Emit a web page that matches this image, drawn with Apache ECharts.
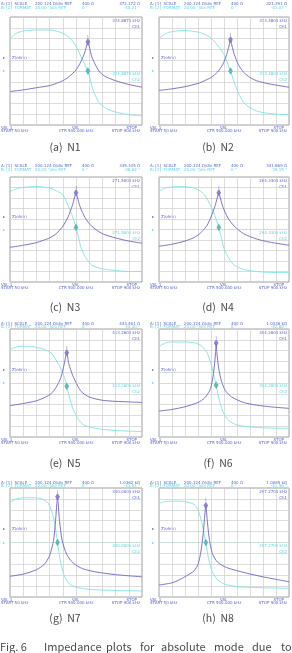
<!DOCTYPE html>
<html><head><meta charset="utf-8">
<script src="https://cdn.jsdelivr.net/npm/echarts@6/dist/echarts.min.js"></script>
<style>html,body{margin:0;padding:0;background:#fff}#c{width:292px;height:653px}</style>
</head><body><div id="c"></div>
<script>
// ---- data (x and y in screen divisions, 0..10) ----
const panelLetters = ['a','b','c','d','e','f','g','h'];
const panelNames = ['N1','N2','N3','N4','N5','N6','N7','N8'];

const magN1 = [[0,3.1],[1,3.25],[2,3.45],[3,3.65],[3.5,3.85],[4,4.1],[4.5,4.5],[5,5.1],[5.3,5.7],[5.6,6.5],[5.8,7.3],[5.9,7.7],[6.0,7.3],[6.2,6.3],[6.5,5.5],[6.8,4.9],[7.2,4.5],[8,4.1],[9,3.75],[10,3.5]];
const phaN1 = [[0,8.0],[0.5,8.5],[1,8.7],[2,8.8],[3,8.8],[3.5,8.7],[4,8.5],[4.5,8.1],[5,7.3],[5.5,6.0],[5.9,5.0],[6.1,4.1],[6.3,3.2],[6.6,2.4],[6.8,2.0],[7.2,1.6],[7.6,1.35],[8,1.2],[9,0.95],[10,0.85]];
const magN2 = [[0,3.2],[1,3.35],[2,3.55],[3,3.85],[3.5,4.1],[4,4.4],[4.5,4.9],[4.9,5.6],[5.2,6.5],[5.4,7.4],[5.5,7.9],[5.6,7.4],[5.8,6.5],[6.1,5.6],[6.5,4.9],[7,4.4],[7.5,4.1],[8.5,3.8],[10,3.5]];
const phaN2 = [[0,8.0],[0.5,8.45],[1,8.65],[2,8.75],[3,8.6],[3.5,8.4],[4,8.05],[4.5,7.4],[5,6.5],[5.5,5.0],[5.8,3.9],[6.1,3.0],[6.5,2.1],[7,1.6],[7.5,1.3],[8,1.15],[9,1.0],[10,0.95]];
const magN3 = [[0,3.3],[1,3.5],[2,3.75],[3,4.2],[3.5,4.6],[4,5.3],[4.4,6.2],[4.7,7.2],[4.9,8.1],[5.0,8.5],[5.1,8.1],[5.3,7.2],[5.7,6.1],[6.2,5.3],[7,4.6],[8,4.2],[9,3.9],[10,3.7]];
const phaN3 = [[0,8.6],[0.5,8.9],[1,9.0],[2,9.1],[3,8.95],[3.5,8.7],[4,8.3],[4.5,7.0],[4.8,6.0],[5.0,5.2],[5.2,4.2],[5.4,3.2],[5.8,2.2],[6.2,1.6],[7,1.25],[8,1.1],[9,1.0],[10,1.0]];
const magN4 = [[0,3.4],[1,3.6],[2,3.9],[2.8,4.3],[3.3,4.8],[3.7,5.4],[4.0,6.2],[4.3,7.2],[4.5,8.1],[4.6,8.5],[4.7,8.1],[4.9,7.2],[5.3,6.1],[5.8,5.3],[6.5,4.6],[7.5,4.1],[8.5,3.8],[10,3.5]];
const phaN4 = [[0,8.65],[0.5,8.95],[1,9.05],[1.5,9.1],[2.5,9.0],[3,8.8],[3.5,8.3],[4,7.2],[4.3,6.3],[4.6,5.2],[4.8,4.2],[5.0,3.2],[5.4,2.2],[5.8,1.6],[6.5,1.2],[7.5,1.0],[9,0.9],[10,0.9]];
const magN5 = [[0,2.9],[1,3.1],[2,3.35],[2.7,3.7],[3.1,4.0],[3.5,4.6],[3.85,5.5],[4.1,6.7],[4.3,7.8],[4.45,6.8],[4.75,5.7],[5.1,4.8],[5.4,4.2],[6,3.7],[7,3.4],[8,3.3],[9,3.25],[10,3.2]];
const phaN5 = [[0,8.1],[0.5,8.35],[1,8.4],[1.5,8.4],[2,8.3],[2.5,8.15],[3.1,7.8],[3.7,6.7],[4.1,5.6],[4.3,4.7],[4.5,3.7],[4.8,2.5],[5.2,1.6],[5.6,1.1],[6.5,0.8],[8,0.6],[10,0.5]];
const magN6 = [[0,2.4],[1,2.55],[2,2.8],[3,3.2],[3.5,3.6],[3.9,4.3],[4.1,5.2],[4.25,6.5],[4.35,7.8],[4.4,8.7],[4.45,7.8],[4.6,6.3],[4.8,5.2],[5.1,4.3],[5.6,3.7],[6.5,3.2],[7.5,2.95],[8.5,2.8],[10,2.65]];
const phaN6 = [[0,8.4],[0.5,8.7],[1,8.8],[2,8.8],[2.8,8.7],[3.3,8.4],[3.7,7.8],[4.0,6.8],[4.2,5.8],[4.4,4.8],[4.6,3.6],[4.9,2.4],[5.3,1.6],[5.8,1.2],[6.5,1.0],[8,0.85],[10,0.8]];
const magN7 = [[0,1.9],[1,2.1],[2,2.5],[2.6,3.0],[3.0,3.8],[3.3,5.2],[3.45,7.0],[3.55,8.6],[3.6,9.2],[3.65,8.6],[3.75,7.0],[3.95,5.2],[4.3,3.9],[4.8,3.1],[5.5,2.6],[6.5,2.3],[8,2.05],[10,1.85]];
const phaN7 = [[0,8.7],[0.5,9.0],[1,9.1],[2,9.1],[2.5,8.95],[2.9,8.6],[3.2,7.7],[3.4,6.6],[3.6,5.0],[3.8,3.4],[4.1,2.0],[4.5,1.2],[5,0.9],[6,0.7],[8,0.6],[10,0.55]];
const magN8 = [[0,1.1],[1,1.3],[1.6,1.6],[2.2,2.0],[2.7,2.4],[3.0,3.0],[3.2,4.0],[3.4,5.8],[3.5,7.2],[3.6,8.4],[3.7,7.2],[3.85,5.5],[4.1,4.0],[4.5,3.2],[5.2,2.7],[6.7,2.2],[8,1.85],[10,1.4]];
const phaN8 = [[0,8.6],[0.5,8.75],[1.1,8.8],[2,8.75],[2.7,8.5],[3.0,8.0],[3.3,6.8],[3.6,5.0],[3.8,3.6],[4.1,2.3],[4.5,1.6],[5,1.2],[6,0.95],[8,0.85],[10,0.8]];

const headerValues = ['372.172 Ω','321.391 Ω','335.105 Ω','341.869 Ω','443.461 Ω','1.0336 kΩ','1.0362 kΩ','1.0065 kΩ'];
const phaseValues = ['-40.21 °','-41.07 °','-38.62 °','-39.15 °','-44.30 °','-42.88 °','-43.51 °','-41.96 °'];
const markerFreqs = ['324.8870 kHz','313.4800 kHz','271.5000 kHz','264.3300 kHz','413.2600 kHz','304.2600 kHz','300.0000 kHz','297.2700 kHz'];
const magRefLevel = 6.2;   // "Z(ohm)" reference marker (divisions)
const phaRefLevel = 5.0;   // phase reference marker (divisions)
const captionWords = ['Fig. 6','Impedance','plots','for','absolute','mode','due','to'];

const mags = [magN1,magN2,magN3,magN4,magN5,magN6,magN7,magN8];
const phas = [phaN1,phaN2,phaN3,phaN4,phaN5,phaN6,phaN7,phaN8];

// ---- layout ----
const colLeft = [10,159], colWidth = [132,130];
const rowTop = [17,177,329,488], rowHeight = [108,105,108,109];
const headerY = [4,166,323.5,482.5];
const captionY = [147,307,463,618];
const captionX = [65,218];
const captionWordX = [0,44,106,140,161,214,252,281];

const PURPLE = '#7064c4', CYAN = '#80e4df', TXT_P = '#5c64cf', TXT_C = '#5fd3dc';

const grids=[], xAxes=[], yAxes=[], series=[], graphics=[];
function txt(x,y,s,fill,align,size,family,vAlign){
  graphics.push({type:'text', x:x, y:y, silent:true, style:{text:s, fill:fill, align:align||'left', verticalAlign:vAlign||'middle', fontSize:size||4, fontFamily:family||'DejaVu Sans'}});
}

for(let i=0;i<8;i++){
  const c=i%2, r=Math.floor(i/2);
  const L=colLeft[c], W=colWidth[c], T=rowTop[r], H=rowHeight[r];
  grids.push({left:L, top:T, width:W, height:H, show:true, borderColor:'#8c8c8c', borderWidth:0.8, backgroundColor:'transparent'});
  const sl = {show:true, lineStyle:{color:'#cdcdcd', width:0.7}};
  xAxes.push({gridIndex:i, type:'value', min:0, max:10, interval:1, axisLine:{show:false}, axisTick:{show:false}, axisLabel:{show:false}, splitLine:sl});
  yAxes.push({gridIndex:i, type:'value', min:0, max:10, interval:1, axisLine:{show:false}, axisTick:{show:false}, axisLabel:{show:false}, splitLine:sl});

  const mag=mags[i], pha=phas[i];
  series.push({type:'line', xAxisIndex:i, yAxisIndex:i, data:pha, smooth:0.25, symbol:'none', lineStyle:{color:CYAN, width:0.9}, z:2,
    markLine:{silent:true, symbol:'none', label:{show:false}, lineStyle:{color:CYAN, type:[1,2], width:0.6, opacity:0.7}, data:[{yAxis:phaRefLevel}]}});
  series.push({type:'line', xAxisIndex:i, yAxisIndex:i, data:mag, smooth:0.25, symbol:'none', lineStyle:{color:PURPLE, width:0.9}, z:3});
  // peak marker
  let pk = mag[0]; mag.forEach(p=>{ if(p[1]>pk[1]) pk=p; });
  let nearest = pha[0]; pha.forEach(p=>{ if(Math.abs(p[0]-pk[0])<Math.abs(nearest[0]-pk[0])) nearest=p; });
  series.push({type:'scatter', xAxisIndex:i, yAxisIndex:i, data:[pk], symbol:'emptyDiamond', symbolSize:[2.5,4], itemStyle:{color:PURPLE, borderWidth:0.6}, z:4,
    label:{show:true, formatter:'1', position:'top', distance:0, fontSize:4, color:PURPLE}});
  series.push({type:'scatter', xAxisIndex:i, yAxisIndex:i, data:[nearest], symbol:'emptyDiamond', symbolSize:[2.5,4], itemStyle:{color:'#3aa8a8', borderWidth:0.6}, z:4});

  // header text
  const hy=headerY[r];
  txt(L-9,hy,'A: [1]  SCALE',TXT_P);
  txt(L+25,hy,'200.124 Ω/div REF',TXT_P);
  txt(L+72,hy,'400 Ω',TXT_P);
  txt(L+W-2,hy,headerValues[i],TXT_P,'right');
  txt(L-9,hy+3.5,'B: [2]  FORMAT',TXT_C);
  txt(L+25,hy+3.5,'20.00 °/div REF',TXT_C);
  txt(L+72,hy+3.5,'0 °',TXT_C);
  txt(L+W-2,hy+3.5,phaseValues[i],TXT_C,'right');
  // in-box texts
  txt(L+W-2,T+4,markerFreqs[i],TXT_P,'right');
  txt(L+W-2,T+10,'Ch1',TXT_P,'right');
  const yC = T+H*(1-4.7/10);
  txt(L+W-2,yC,markerFreqs[i],TXT_C,'right');
  txt(L+W-2,yC+6,'Ch2',TXT_C,'right');
  // reference markers
  const yZ = T+H*(1-magRefLevel/10), yP = T+H*(1-phaRefLevel/10);
  txt(L-7,yZ,'▸',TXT_P,'left',4);
  txt(L+2,yZ,'Z(ohm)',TXT_P);
  txt(L-7,yP,'▸',TXT_C,'left',4);
  // bottom texts
  const B=T+H;
  txt(L-9,B+2.5,'VAL 1',TXT_P);
  txt(L-9,B+6,'START 50 kHz',TXT_P);
  txt(L+W/2-4,B+2.5,'VAL',TXT_P);
  txt(L+W/2,B+6,'CTR 500.000 kHz',TXT_P,'center');
  txt(L+W-5,B+2.5,'STOP',TXT_P,'right');
  txt(L+W-2,B+6,'STOP 900 kHz',TXT_P,'right');
  // caption
  txt(captionX[c],captionY[r],'('+panelLetters[i]+')  '+panelNames[i],'#4a4a4a','center',10.5,'Noto Sans CJK KR');
}
captionWords.forEach((w,k)=>txt(captionWordX[k],647,w,'#4a4a4a','left',11,'Noto Sans CJK KR'));

const chart = echarts.init(document.getElementById('c'), null, {renderer:'canvas'});
chart.setOption({animation:false, backgroundColor:'#fff', grid:grids, xAxis:xAxes, yAxis:yAxes, series:series, graphic:graphics});
</script></body></html>
